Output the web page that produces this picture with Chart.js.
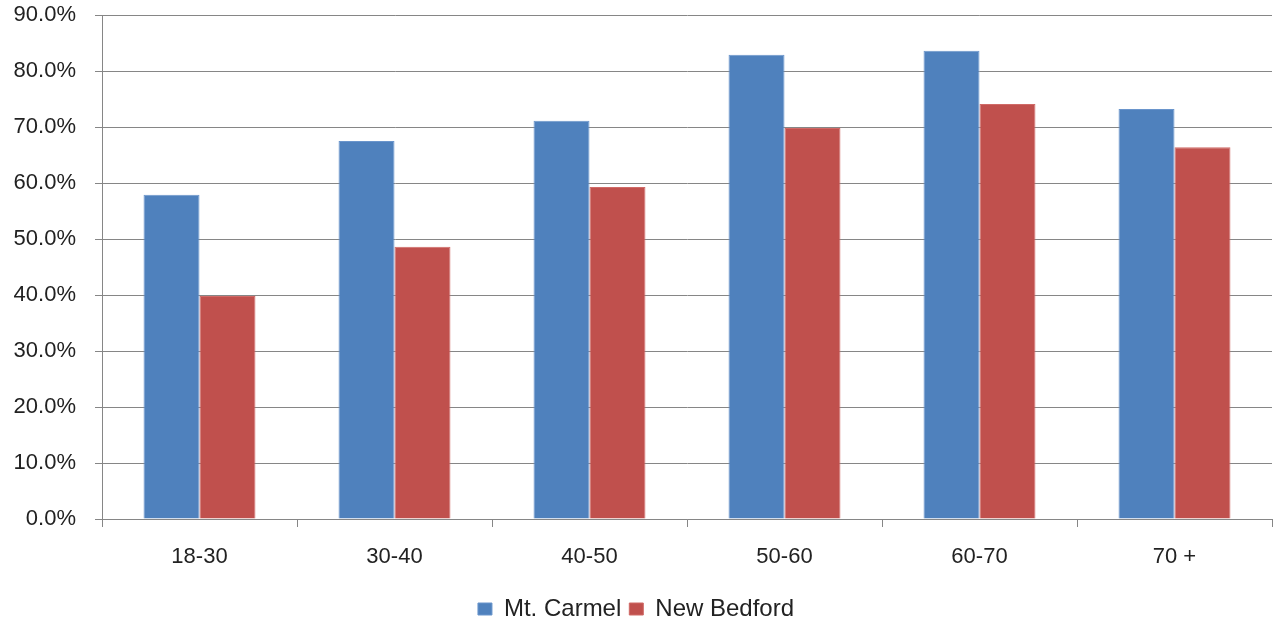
<!DOCTYPE html>
<html><head><meta charset="utf-8">
<script src="https://cdn.jsdelivr.net/npm/chart.js@4"></script>
<style>html,body{margin:0;padding:0;background:#fff}#wrap{width:1275px;height:627px;position:relative}</style>
</head><body><div id="wrap"><canvas id="c"></canvas></div>
<script>
const categories = ["18-30","30-40","40-50","50-60","60-70","70 +"];
const mtCarmel = [57.9, 67.5, 71.1, 82.9, 83.6, 73.2];
const newBedford = [39.8, 48.6, 59.3, 69.8, 74.1, 66.4];
const seriesNames = ["Mt. Carmel","New Bedford"];

const FONT = "'Liberation Sans', Arial, sans-serif";
new Chart(document.getElementById('c'), {
  type: 'bar',
  data: {
    labels: categories,
    datasets: [
      {label: seriesNames[0], data: mtCarmel, backgroundColor: '#4F81BD', borderColor:'#6a95cc', borderWidth:1},
      {label: seriesNames[1], data: newBedford, backgroundColor: '#C0504D', borderColor:'#d06a67', borderWidth:1}
    ]
  },
  options: {
    responsive: true, maintainAspectRatio: false, animation: false,
    layout: {padding: {left: 0, right: 3, top: 15, bottom: -4}},
    datasets: {bar: {categoryPercentage: 0.574, barPercentage: 1}},
    plugins: {
      tooltip: {enabled: false},
      legend: {position: 'bottom', labels: {font: {family: FONT, size: 24}, color: '#222', boxWidth: 14, boxHeight: 12, padding: 8}}
    },
    scales: {
      x: {
        grid: {offset: true, drawOnChartArea: false, drawTicks: true, tickLength: 8, color: '#868686'},
        border: {color: '#868686'},
        ticks: {font: {family: FONT, size: 22}, color: '#222', padding: 17},
        afterFit: s => { s.height = 70; }
      },
      y: {
        min: 0, max: 90,
        grid: {color: '#868686', tickLength: 7},
        border: {color: '#868686'},
        ticks: {stepSize: 10, font: {family: FONT, size: 22}, color: '#222', padding: 19,
          callback: v => v.toFixed(1) + '%'},
        afterFit: s => { s.width = 102; s.paddingTop = 0; s.paddingBottom = 0; }
      }
    }
  }
});
</script></body></html>
